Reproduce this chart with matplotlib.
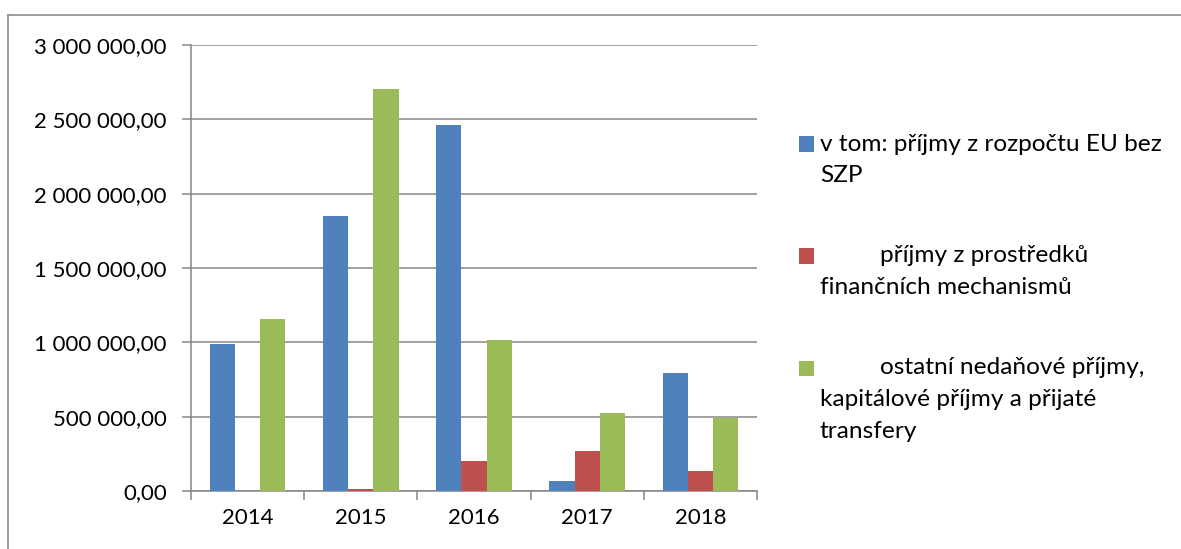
import numpy as np
import matplotlib.pyplot as plt
from matplotlib.patches import Rectangle
from matplotlib.lines import Line2D

# data
years = ["2014", "2015", "2016", "2017", "2018"]
eu_bez_szp = [986000, 1851000, 2460000, 66000, 797000]
financni_mechanismy = [0, 16500, 200000, 266000, 134000]
ostatni_prijmy = [1160000, 2705000, 1014000, 528000, 490000]

series = [eu_bez_szp, financni_mechanismy, ostatni_prijmy]
labels = [
    ["v tom: příjmy z rozpočtu EU bez", "SZP"],
    ["příjmy z prostředků", "finančních mechanismů"],
    ["ostatní nedaňové příjmy,", "kapitálové příjmy a přijaté", "transfery"],
]
colors = ["#4F81BD", "#C0504D", "#9BBB59"]
y_ticks = [0, 500000, 1000000, 1500000, 2000000, 2500000, 3000000]

W, H = 1181, 549
plt.rcParams['font.family'] = ['Lato', 'DejaVu Sans']
fig = plt.figure(figsize=(W / 100, H / 100), dpi=100)

# plot area in pixels
left, right, top, bottom = 191, 757, 45, 491
ax = fig.add_axes([left / W, 1 - bottom / H, (right - left) / W, (bottom - top) / H])

x = np.arange(len(years))
bw = 2 / 9  # gap width 150 %
for i, vals in enumerate(series):
    ax.bar(x + (i - 1) * bw, vals, width=bw, color=colors[i], zorder=3)

ax.set_xlim(-0.5, len(years) - 0.5)
ax.set_ylim(0, 3000000)
ax.set_yticks(y_ticks)
ax.set_yticklabels([f"{v:,.2f}".replace(",", " ").replace(".", ",") for v in y_ticks])
ax.yaxis.grid(True, color="#868686", linewidth=1.1, zorder=0)

ax.set_xticks(np.arange(-0.5, len(years)), labels=[""] * (len(years) + 1))
ax.set_xticks(x, labels=years, minor=True)
ax.tick_params(axis="x", which="major", length=6.5, width=1.1, color="#868686")
ax.tick_params(axis="x", which="minor", length=0, pad=12)
ax.tick_params(axis="y", length=6.5, width=1.1, color="#868686", pad=11)
ax.tick_params(which="both", labelsize=16, labelcolor="black")

for s in ["top", "right"]:
    ax.spines[s].set_visible(False)
for s in ["left", "bottom"]:
    ax.spines[s].set_color("#868686")
    ax.spines[s].set_linewidth(1.1)

# chart area border (only the left and top edges are inside the picture)
fig.add_artist(Line2D([8 / W, 8 / W], [0, 1 - 15 / H], color="#8c8c8c", linewidth=1.2))
fig.add_artist(Line2D([8 / W, 1], [1 - 15 / H, 1 - 15 / H], color="#8c8c8c", linewidth=1.2))

# legend drawn by hand so the marker sits on the first line
entry_y = [144, 256, 368]
indent = [0, 60, 60]
line_h = 31.5
for i, lines in enumerate(labels):
    y0 = entry_y[i]
    fig.add_artist(Rectangle((799 / W, 1 - (y0 + 7.5) / H), 15 / W, 15 / H,
                             facecolor=colors[i], edgecolor="none",
                             transform=fig.transFigure))
    for j, txt in enumerate(lines):
        xx = 820 + (indent[i] if j == 0 else 0)
        fig.text(xx / W, 1 - (y0 + j * line_h) / H, txt, fontsize=17.6,
                 ha="left", va="center", color="black")

fig.savefig("out.png", dpi=100)
